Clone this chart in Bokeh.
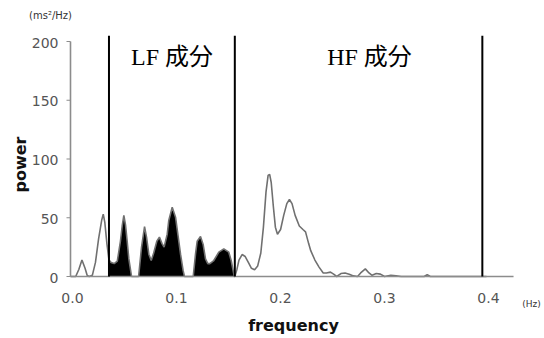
import math
from bokeh.plotting import figure
from bokeh.models import Range1d, Label
from bokeh.core.properties import value
from bokeh.embed import file_html
from bokeh.resources import INLINE

# Spectrum (frequency in Hz, power in ms^2/Hz)
freq = [0.000, 0.005, 0.008, 0.011, 0.014, 0.016, 0.018, 0.021, 0.024, 0.027,
        0.030, 0.0315, 0.033, 0.035, 0.037, 0.039, 0.042, 0.045, 0.048, 0.0497,
        0.0513, 0.0529, 0.0545, 0.0561, 0.0587, 0.0655, 0.0683, 0.0712, 0.0731, 0.0753,
        0.0776, 0.080, 0.083, 0.0855, 0.088, 0.090, 0.093, 0.0945, 0.0978, 0.101,
        0.1032, 0.1058, 0.1083, 0.1096, 0.118, 0.1202, 0.1218, 0.125, 0.1276, 0.1298,
        0.132, 0.134, 0.1378, 0.1426, 0.1474, 0.1522, 0.1545, 0.1564, 0.1575, 0.158,
        0.160, 0.162, 0.165, 0.168, 0.171, 0.174, 0.177,
        0.180, 0.183, 0.1855, 0.188, 0.190, 0.1915, 0.193, 0.195, 0.197, 0.199,
        0.202, 0.205, 0.208, 0.2105, 0.213, 0.216, 0.220, 0.2235, 0.226, 0.229,
        0.231, 0.235, 0.239, 0.243, 0.246, 0.250, 0.253, 0.256, 0.260, 0.264,
        0.268, 0.272, 0.276, 0.279, 0.2835, 0.287, 0.290, 0.294, 0.298, 0.302,
        0.308, 0.313, 0.318, 0.340, 0.343, 0.346, 0.400]
power = [0, 0, 6, 14, 7, 1, 0, 1, 12, 32,
         48, 53, 46, 28, 14, 12, 11, 13, 30, 43,
         52, 44, 30, 15, 0, 0, 25, 42.5, 33.5, 19,
         13.6, 20, 30, 33.5, 28, 25, 36, 47.7, 59, 50.5,
         36, 19, 5, 0, 0, 19, 30, 34, 27, 15,
         11, 11, 13.6, 20.7, 23.5, 20.7, 13.6, 5, 0, 0,
         6, 14, 18.7, 17, 12, 7, 5.7,
         9, 20, 42, 72, 86, 87, 80, 60, 42, 36,
         40, 52, 62, 65.5, 62, 52, 43, 40, 38, 28,
         22, 14, 8, 3, 3, 3.7, 2, 0, 2.5, 3,
         2, 0.5, 0, 3, 6.5, 3, 1, 2.5, 2, 0,
         1, 0.5, 0, 0, 1.5, 0, 0]

lf_band = (0.037, 0.158)
hf_end = 0.396
band_top = 205
y_ticks = [0, 50, 100, 150, 200]
y_tick_labels = ["0", "50", "100", "150", "200"]
x_ticks = [0.0, 0.1, 0.2, 0.3, 0.4]
x_tick_labels = ["0.0", "0.1", "0.2", "0.3", "0.4"]
x_axis_end = 0.426
y_axis_end = 200

# scale: pixels per data unit
SX = 1040.0
SY = 1.175
W, H = 544, 338
X0_PX, Y0_PX = 70, 276   # pixel position of the origin

p = figure(width=W, height=H, output_backend="svg", toolbar_location=None,
           x_range=Range1d(-X0_PX / SX, (W - X0_PX) / SX),
           y_range=Range1d(-(H - Y0_PX) / SY, Y0_PX / SY),
           min_border=0, min_border_left=0, min_border_right=0,
           min_border_top=0, min_border_bottom=0)
p.axis.visible = False
p.outline_line_color = None
p.xgrid.grid_line_color = None
p.ygrid.grid_line_color = None
p.background_fill_color = "white"
p.border_fill_color = "white"

AXIS_COLOR = "#8c8c8c"
TICK_FONT = value("DejaVu Sans")

# LF band filled black
lf_x = [f for f in freq if lf_band[0] <= f <= lf_band[1]]
lf_y = [pw for f, pw in zip(freq, power) if lf_band[0] <= f <= lf_band[1]]
p.varea(x=lf_x, y1=[0] * len(lf_x), y2=lf_y, fill_color="black")

p.line(freq, power, line_color="#707070", line_width=1.6)

# axes drawn as glyphs
p.segment(x0=[0], y0=[0], x1=[0], y1=[y_axis_end], line_color=AXIS_COLOR, line_width=1.6)
p.segment(x0=[0], y0=[0], x1=[x_axis_end], y1=[0], line_color=AXIS_COLOR, line_width=1.6)
p.segment(x0=[-4 / SX] * len(y_ticks), y0=y_ticks, x1=[0] * len(y_ticks), y1=y_ticks,
          line_color=AXIS_COLOR, line_width=1.2)
p.text(x=[-12 / SX] * len(y_ticks), y=y_ticks, text=y_tick_labels, text_font=TICK_FONT,
       text_font_size="14px", text_color="#555555", text_align="right",
       text_baseline="middle", y_offset=1)
p.text(x=x_ticks, y=[0] * len(x_ticks), text=x_tick_labels, text_font=TICK_FONT,
       text_font_size="14px", text_color="#555555", text_align="center",
       text_baseline="middle", x_offset=2, y_offset=21)

# band boundaries
for xv in [lf_band[0], lf_band[1], hf_end]:
    p.segment(x0=[xv], y0=[0], x1=[xv], y1=[band_top], line_color="black", line_width=2)

band_font = "'Liberation Serif', 'Noto Sans CJK JP'"
p.add_layout(Label(x=101.5 / SX, y=(Y0_PX - 56) / SY, text="LF 成分", text_font=band_font,
                   text_font_size="24px", text_align="center", text_baseline="middle",
                   text_color="black"))
p.add_layout(Label(x=299 / SX, y=(Y0_PX - 56) / SY, text="HF 成分", text_font=band_font,
                   text_font_size="24px", text_align="center", text_baseline="middle",
                   text_color="black"))

# axis titles and units
p.add_layout(Label(x=223 / SX, y=-(325 - Y0_PX) / SY, text="frequency",
                   text_font="DejaVu Sans", text_font_style="bold", text_font_size="16px",
                   text_align="center", text_baseline="middle", text_color="#111111"))
p.add_layout(Label(x=-50 / SX, y=(Y0_PX - 164) / SY, text="power", angle=math.pi / 2,
                   text_font="DejaVu Sans", text_font_style="bold", text_font_size="16px",
                   text_align="center", text_baseline="middle", text_color="#111111"))
p.add_layout(Label(x=-20 / SX, y=(Y0_PX - 15) / SY, text="(ms²/Hz)", text_font="DejaVu Sans",
                   text_font_size="10px", text_align="center", text_baseline="middle",
                   text_color="#333333"))
p.add_layout(Label(x=461 / SX, y=-(303 - Y0_PX) / SY, text="(Hz)", text_font="DejaVu Sans",
                   text_font_size="9px", text_align="center", text_baseline="middle",
                   text_color="#333333"))

open("out.html", "w").write(file_html(p, INLINE))
